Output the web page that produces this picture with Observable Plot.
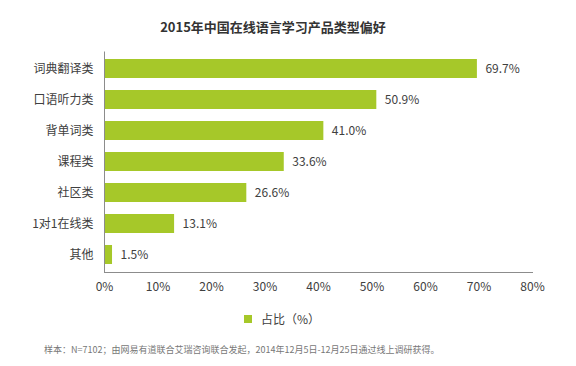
<!DOCTYPE html>
<html>
<head>
<meta charset="utf-8">
<script src="https://cdn.jsdelivr.net/npm/d3@7"></script>
<script src="https://cdn.jsdelivr.net/npm/@observablehq/plot@0.6"></script>
<style>
  html, body { margin: 0; padding: 0; background: #fff; }
  body { width: 576px; height: 366px; position: relative; overflow: hidden;
         font-family: "Noto Sans CJK SC", "Noto Sans", sans-serif; color: #404040; }
  #title { position: absolute; left: 0; width: 546px; top: 17px; text-align: center;
           font-size: 13px; font-weight: bold; color: #333; line-height: 20px; }
  #chart { position: absolute; left: 0; top: 40px; }
  #legend { position: absolute; left: 244px; top: 310px; font-size: 12px; line-height: 18px;
            display: flex; align-items: center; color: #404040; }
  #legend .sw { width: 8px; height: 8px; background: #a6c829; margin-right: 9px; }
  #note { position: absolute; left: 44px; top: 343px; font-size: 9px; color: #777; line-height: 14px; white-space: nowrap; }
</style>
</head>
<body>
<div id="title"></div>
<div id="chart"></div>
<div id="legend"><span class="sw"></span><span id="legtext"></span></div>
<div id="note"></div>
<script>
const categories = ["词典翻译类", "口语听力类", "背单词类", "课程类", "社区类", "1对1在线类", "其他"];
const values = [69.7, 50.9, 41.0, 33.6, 26.6, 13.1, 1.5];
const xTicks = [0, 10, 20, 30, 40, 50, 60, 70, 80];
const titleText = "2015年中国在线语言学习产品类型偏好";
const legendLabel = "占比（%）";
const noteText = "样本：N=7102；由网易有道联合艾瑞咨询联合发起，2014年12月5日-12月25日通过线上调研获得。";

document.getElementById("title").textContent = titleText;
document.getElementById("legtext").textContent = legendLabel;
document.getElementById("note").textContent = noteText;

const data = categories.map((c, i) => ({category: c, value: values[i]}));
const green = "#a6c829";

const chart = Plot.plot({
  width: 576,
  height: 260,
  marginTop: 11.5,
  marginBottom: 28,
  marginLeft: 104,
  marginRight: 44,
  style: {fontFamily: '"Noto Sans CJK SC", "Noto Sans", sans-serif', fontSize: "12px", color: "#404040", background: "#fff"},
  x: {domain: [0, 80], ticks: xTicks, tickFormat: d => d + "%", tickSize: 0, tickPadding: 10, label: null},
  y: {domain: categories, paddingInner: 0.38, paddingOuter: 0.19, tickSize: 0, tickPadding: 11, label: null},
  marks: [
    Plot.barX(data, {x: "value", y: "category", fill: green}),
    Plot.text(data, {x: "value", y: "category", text: d => d.value.toFixed(1) + "%", textAnchor: "start", dx: 8, fill: "#404040", fontSize: 12}),
    Plot.ruleX([0], {stroke: "#8c8c8c", strokeWidth: 1}),
    Plot.frame({anchor: "bottom", stroke: "#8c8c8c", strokeWidth: 1})
  ]
});
document.getElementById("chart").appendChild(chart);
</script>
</body>
</html>
